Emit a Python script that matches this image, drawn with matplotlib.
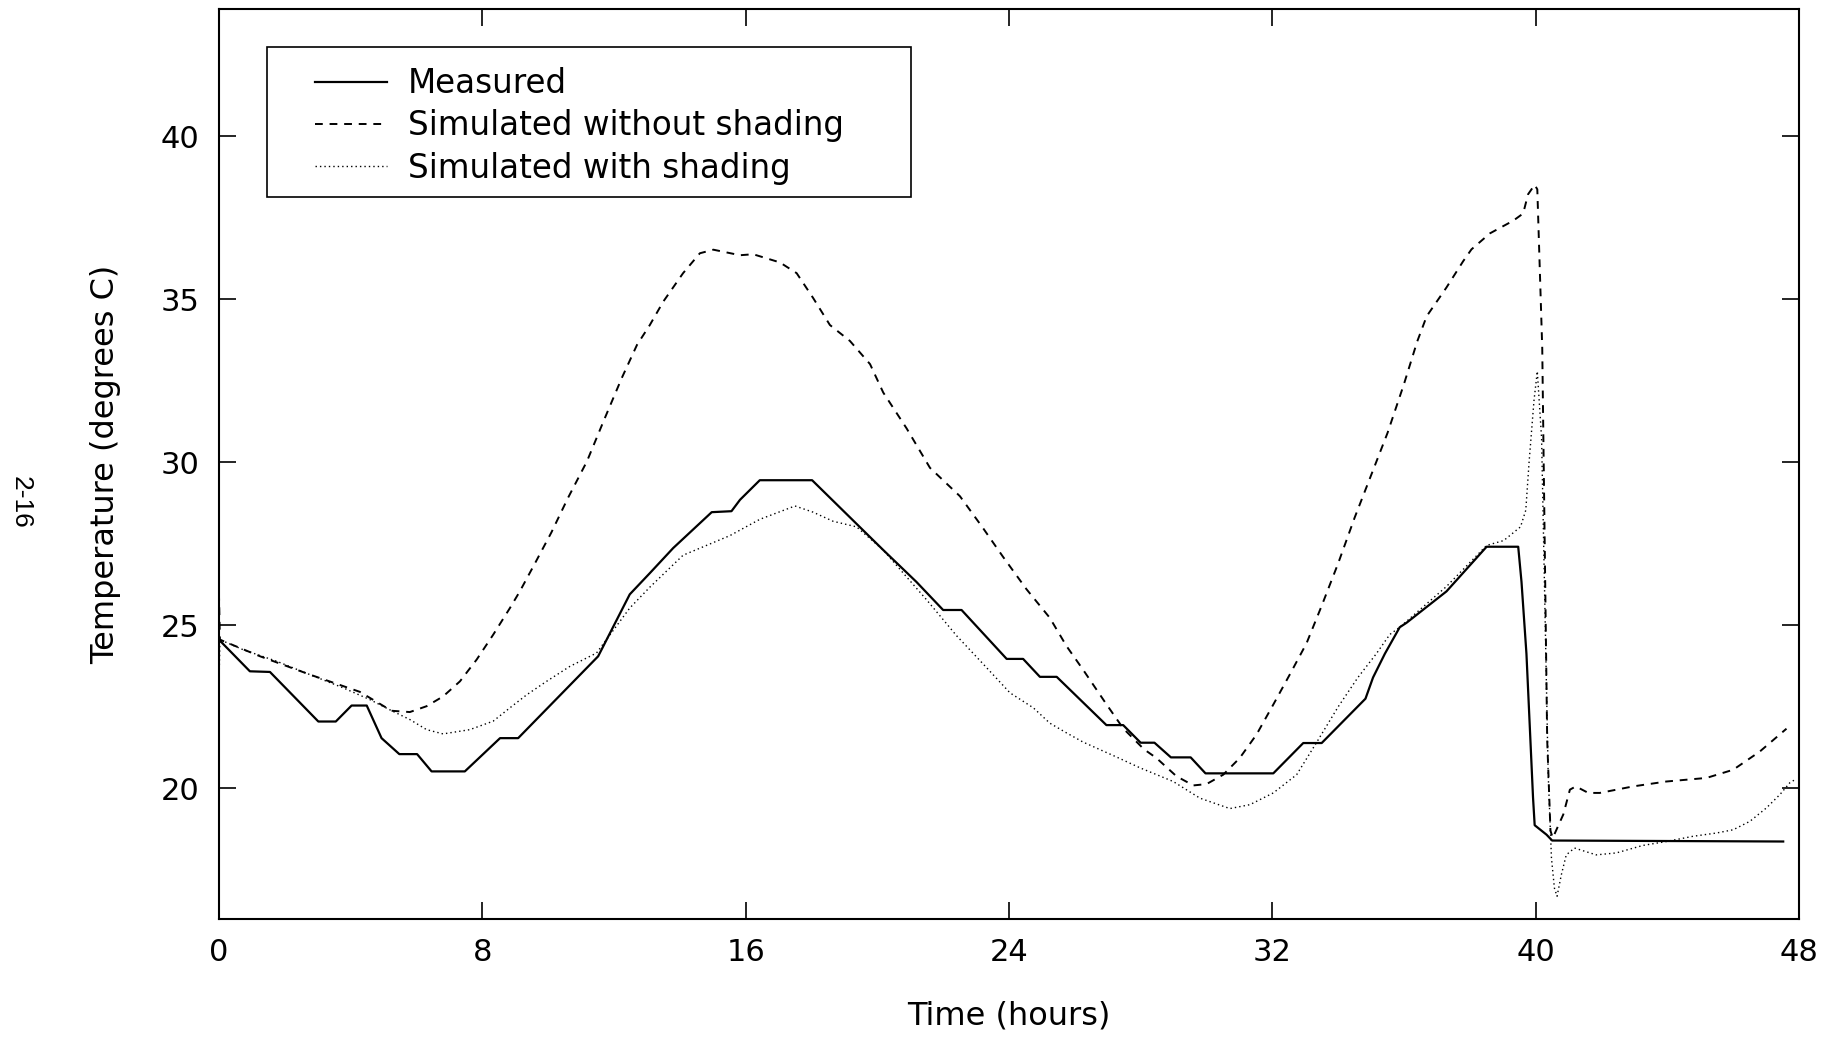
import matplotlib
matplotlib.use("Agg")
import matplotlib.pyplot as plt
from matplotlib.patches import Rectangle

# Measured room temperature (time in hours, temperature in degrees C)
meas_t = [0, 0.94, 1.55, 3.02, 3.55, 4.03, 4.49, 4.94, 5.48, 6.02, 6.46, 7.47,
          8.54, 9.09, 11.52, 12.48, 13.09, 13.8, 14.97, 15.57, 15.83, 16.43,
          18.02, 20.18, 21.19, 22.0, 22.56, 23.93, 24.43, 24.94, 25.45, 26.96,
          27.47, 28.0, 28.42, 28.92, 29.52, 29.97, 32.03, 32.94, 33.5, 34.83,
          35.06, 35.42, 35.87, 36.08, 37.29, 38.51, 39.47, 39.57, 39.72, 39.82,
          39.92, 39.97, 40.33, 40.5, 47.52]
meas_T = [24.56, 23.59, 23.57, 22.05, 22.05, 22.54, 22.54, 21.54, 21.05, 21.05,
          20.52, 20.52, 21.54, 21.54, 24.05, 25.95, 26.6, 27.37, 28.47, 28.5,
          28.85, 29.45, 29.45, 27.31, 26.33, 25.47, 25.47, 23.97, 23.97, 23.42,
          23.42, 21.94, 21.94, 21.40, 21.40, 20.95, 20.95, 20.46, 20.46, 21.39,
          21.39, 22.75, 23.40, 24.13, 24.94, 25.08, 26.04, 27.41, 27.41, 26.33,
          24.13, 21.93, 19.72, 18.87, 18.58, 18.40, 18.37]

# Simulated without shading
nosh_t = [0, 0.03, 1.25, 2.76, 4.28, 5.24, 5.8, 6.31, 6.81, 7.32, 7.83, 8.33,
          8.84, 9.14, 9.6, 10.1, 10.6, 11.18, 11.7, 12.24, 12.7, 13.09, 13.5,
          14.1, 14.61, 15.02, 15.83, 16.23, 17.04, 17.55, 18.05, 18.56, 19.17,
          19.78, 20.18, 20.89, 21.6, 22.51, 23.22, 23.82, 24.53, 25.24, 25.75,
          26.25, 26.96, 27.47, 28.1, 28.48, 29.09, 29.6, 30.0, 30.51, 31.01,
          31.52, 32.03, 32.53, 33.04, 33.5, 34.0, 34.5, 35.0, 35.5, 36.0, 36.4,
          36.69, 37.29, 37.8, 38.05, 38.61, 39.32, 39.62, 39.77, 39.97, 40.05,
          40.2, 40.35, 40.45, 40.52, 40.84, 41.04, 41.22, 41.6, 41.95, 42.96,
          43.97, 45.19, 46.0, 46.81, 47.62]
nosh_T = [26.0, 24.56, 24.05, 23.49, 22.96, 22.38, 22.34, 22.52, 22.82, 23.28,
          23.95, 24.71, 25.53, 26.04, 26.9, 27.85, 28.9, 30.03, 31.3, 32.59,
          33.6, 34.21, 34.93, 35.80, 36.41, 36.52, 36.35, 36.38, 36.13, 35.80,
          35.04, 34.21, 33.72, 33.01, 32.14, 31.04, 29.83, 28.96, 27.97, 27.10,
          26.11, 25.23, 24.36, 23.64, 22.58, 21.84, 21.2, 20.93, 20.37, 20.09,
          20.13, 20.42, 20.93, 21.65, 22.57, 23.49, 24.45, 25.6, 26.9, 28.3,
          29.6, 30.9, 32.4, 33.7, 34.48, 35.36, 36.17, 36.53, 37.02, 37.41,
          37.63, 38.22, 38.51, 38.37, 33.5, 21.5, 18.7, 18.48, 19.2, 19.96,
          20.06, 19.86, 19.86, 20.06, 20.21, 20.32, 20.57, 21.13, 21.83]

# Simulated with shading
sh_t = [0, 0.03, 0.74, 1.75, 2.76, 3.78, 4.59, 5.19, 5.8, 6.31, 6.81, 7.62,
        8.33, 8.84, 9.35, 9.95, 10.66, 11.47, 11.88, 12.48, 13.09, 14.1, 15.52,
        16.43, 17.5, 18.05, 18.66, 19.37, 20.18, 20.79, 21.5, 22.41, 23.22,
        24.03, 24.74, 25.24, 25.75, 26.25, 26.76, 27.27, 27.98, 28.99, 29.8,
        30.71, 31.32, 32.03, 32.74, 33.34, 34.0, 34.6, 35.16, 35.57, 35.87,
        37.29, 38.51, 39.03, 39.54, 39.7, 39.8, 39.95, 40.05, 40.18, 40.38,
        40.48, 40.57, 40.65, 40.78, 40.93, 41.18, 41.43, 41.84, 42.45, 43.26,
        43.97, 44.78, 45.49, 46.0, 46.51, 47.01, 47.42, 47.72, 47.85]
sh_T = [23.1, 24.56, 24.25, 23.9, 23.49, 23.08, 22.72, 22.41, 22.11, 21.80,
        21.67, 21.80, 22.06, 22.47, 22.87, 23.28, 23.74, 24.15, 24.71, 25.53,
        26.17, 27.15, 27.75, 28.25, 28.66, 28.47, 28.19, 28.02, 27.31, 26.6,
        25.78, 24.68, 23.81, 22.93, 22.47, 22.0, 21.70, 21.42, 21.19, 20.96,
        20.63, 20.21, 19.70, 19.38, 19.50, 19.86, 20.42, 21.4, 22.5, 23.4,
        24.13, 24.72, 24.94, 26.19, 27.45, 27.6, 28.02, 28.53, 30.0, 31.9,
        32.79, 30.74, 20.46, 17.86, 16.94, 16.69, 17.35, 17.96, 18.17, 18.09,
        17.96, 18.02, 18.25, 18.37, 18.53, 18.63, 18.73, 18.99, 19.40, 19.81,
        20.17, 20.25]

x_ticks = [0, 8, 16, 24, 32, 40, 48]
y_ticks = [20, 25, 30, 35, 40]

plt.rcParams['font.family'] = ['DejaVu Sans']

fig = plt.figure(figsize=(18.29, 10.39), dpi=100)
ax = fig.add_axes([0.1197, 0.1157, 0.8639, 0.8756])

ax.plot(meas_t, meas_T, color="black", lw=1.6, label="Measured")
ax.plot(nosh_t, nosh_T, color="black", lw=1.4, dashes=(4, 3.5),
        label="Simulated without shading")
ax.plot(sh_t, sh_T, color="black", lw=1.0, dashes=(1, 2.2),
        label="Simulated with shading")

ax.set_xlim(0, 48)
ax.set_ylim(16, 43.9)
ax.set_xticks(x_ticks)
ax.set_yticks(y_ticks)
ax.tick_params(direction="in", length=12, width=1.2, top=True, right=True,
               labelsize=22, pad=14)
for sp in ax.spines.values():
    sp.set_linewidth(1.5)

ax.set_xlabel("Time (hours)", fontsize=23)
ax.set_ylabel("Temperature (degrees C)", fontsize=23)
ax.xaxis.set_label_coords(0.5, -0.09)
ax.yaxis.set_label_coords(-0.062, 0.5)

# legend content without its own frame, box drawn around it
leg = ax.legend(loc="upper left", bbox_to_anchor=(0.0608, 0.936),
                fontsize=23.5, frameon=False, borderpad=0, borderaxespad=0,
                labelspacing=0.28, handlelength=2.2, handletextpad=0.64)
ax.add_patch(Rectangle((0.0304, 0.7934), 0.4076, 0.1648, transform=ax.transAxes,
                       fill=False, edgecolor="black", lw=1.2, zorder=5))

fig.text(21 / 1829, 1 - 502 / 1039, "2-16", rotation=-90, ha="center",
         va="center", fontsize=19, family=["Liberation Sans", "DejaVu Sans"])

fig.savefig("out.png", dpi=100)
